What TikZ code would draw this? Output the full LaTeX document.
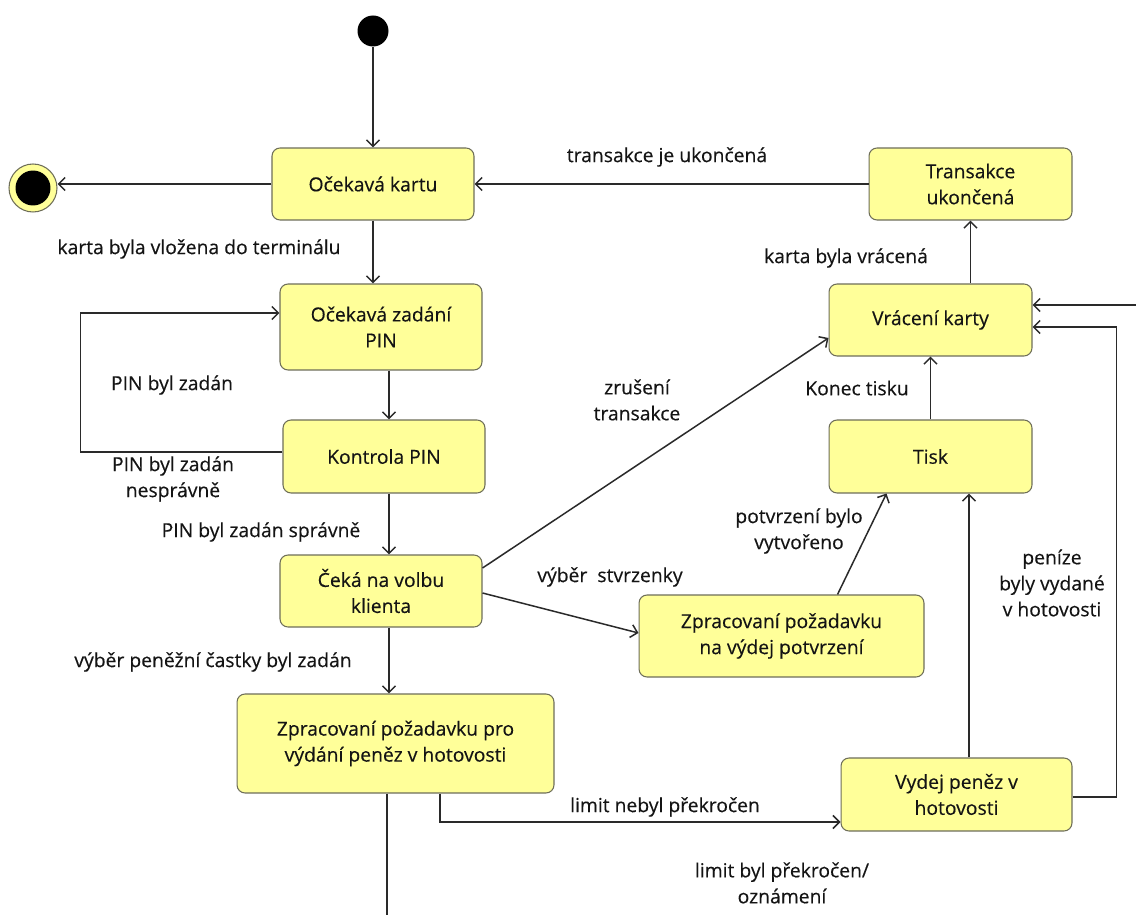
\documentclass[tikz,border=0pt]{standalone}
\usepackage{fontspec}
\setmainfont{Open Sans}[FakeBold=0.3]
\usetikzlibrary{arrows.meta,calc}
\definecolor{stfill}{HTML}{FFFF99}
\definecolor{stdraw}{HTML}{6E6E58}
\definecolor{linecol}{HTML}{2A2A2A}
\definecolor{txcol}{HTML}{141414}
\begin{document}
\begin{tikzpicture}[x=0.02cm,y=-0.02cm,
  state/.style={draw=stdraw, line width=0.6pt, fill=stfill, rounded corners=0.16cm,
    align=center, font=\fontsize{11}{14.8}\selectfont, text=txcol, inner sep=0pt},
  lbl/.style={align=center, font=\fontsize{11}{14.8}\selectfont, text=txcol, inner sep=0pt},
  arr/.style={draw=linecol, line width=0.85pt, -{Straight Barb[length=1.3mm,width=2.6mm]}},
  plain/.style={draw=linecol, line width=0.85pt}]
\useasboundingbox (0,0) rectangle (1136,915);
\clip (0,0) rectangle (1136,915);
\fill[white] (0,0) rectangle (1136,915);

% states
\node[circle, fill=black, minimum size=0.62cm, inner sep=0pt] (init) at (373,31) {};
\node[circle, draw=stdraw, line width=0.6pt, fill=stfill, minimum size=0.96cm, inner sep=0pt] (fin) at (33,188) {};
\node[circle, fill=black, minimum size=0.7cm, inner sep=0pt] (finin) at (fin.center) {};

\node[state, minimum width=4.04cm, minimum height=1.44cm] (oc) at (373,184) {Očekavá kartu};
\node[state, minimum width=4.06cm, minimum height=1.44cm] (tu) at (970.5,184) {Transakce\\ukončená};
\node[state, minimum width=4.04cm, minimum height=1.72cm] (pin) at (381,327) {Očekavá zadání\\PIN};
\node[state, minimum width=4.06cm, minimum height=1.44cm] (vk) at (930.5,320) {Vrácení karty};
\node[state, minimum width=4.04cm, minimum height=1.46cm] (kp) at (384,456.5) {Kontrola PIN};
\node[state, minimum width=4.06cm, minimum height=1.46cm] (tisk) at (930.5,456.5) {Tisk};
\node[state, minimum width=4.04cm, minimum height=1.44cm] (cv) at (381,591) {Čeká na volbu\\klienta};
\node[state, minimum width=5.7cm, minimum height=1.64cm] (zp) at (781.5,636) {Zpracovaní požadavku\\na výdej potvrzení};
\node[state, minimum width=6.34cm, minimum height=1.98cm] (zh) at (395.5,743.5) {Zpracovaní požadavku pro\\výdání peněz v hotovosti};
\node[state, minimum width=4.62cm, minimum height=1.46cm] (vp) at (956.5,794.5) {Vydej peněz v\\hotovosti};

% helper coordinates
\coordinate (xa) at (389,0);
\coordinate (xb) at (969,0);
\coordinate (rb) at (1145,915.3);

% connectors
\draw[arr] (init) -- (oc);
\draw[arr] (oc.west) -- (oc.west -| fin.east);
\draw[arr] (tu) -- (oc);
\draw[arr] (oc.south) -- (oc.south |- pin.north);
\draw[arr] (pin.south -| xa) -- (kp.north -| xa);
\draw[arr] ($(kp.west)+(0,-4.5)$) -- ++(-202,0) |- ($(pin.west)+(0,-14)$);
\draw[arr] (kp.south -| xa) -- (cv.north -| xa);
\draw[arr] ($(cv.east)+(0,-23)$) -- ($(vk.west)+(0,18)$);
\draw[arr] ($(cv.east)+(0,2)$) -- ($(zp.west)+(0,-3)$);
\draw[arr] ($(zp.north)+(56,0)$) -- ($(tisk.south)+(-44,0)$);
\draw[arr] (tisk) -- (vk);
\draw[arr] ($(vk.north)+(40,0)$) -- (tu.south);
\draw[arr] (cv.south -| xa) -- (zh.north -| xa);
\draw[arr] ($(zh.south)+(44.5,0)$) |- ($(vp.west)+(0,27.5)$);
\draw[arr] (vp.north -| xb) -- (tisk.south -| xb);
\draw[arr] ($(vp.east)+(0,2.5)$) -- ++(44,0) |- ($(vk.east)+(0,7)$);
\draw[arr] ($(zh.south)+(-8.5,0)$) |- (rb) |- ($(vk.east)+(0,-15)$);

% labels
\node[lbl] (l1) at (667,157) {transakce je ukončená};
\node[lbl] (l2) at (199,249) {karta byla vložena do terminálu};
\node[lbl] (l3) at (172,385) {PIN byl zadán};
\node[lbl] (l4) at (173,479) {PIN byl zadán\\nesprávně};
\node[lbl] (l5) at (261,532) {PIN byl zadán správně};
\node[lbl] (l6) at (637,400) {zrušení\\transakce};
\node[lbl] (l7) at (857,388) {Konec tisku};
\node[lbl] (l8) at (799,531) {potvrzení bylo\\vytvořeno};
\node[lbl] (l9) at (610,577) {výběr\ \ stvrzenky};
\node[lbl] (l10) at (846,258) {karta byla vrácená};
\node[lbl] (l11) at (213,662) {výběr peněžní častky byl zadán};
\node[lbl] (l12) at (1052,583) {peníze\\byly vydané\\v hotovosti};
\node[lbl] (l13) at (665,807) {limit nebyl překročen};
\node[lbl] (l14) at (782,883) {limit byl překročen/\\oznámení};
\end{tikzpicture}
\end{document}
